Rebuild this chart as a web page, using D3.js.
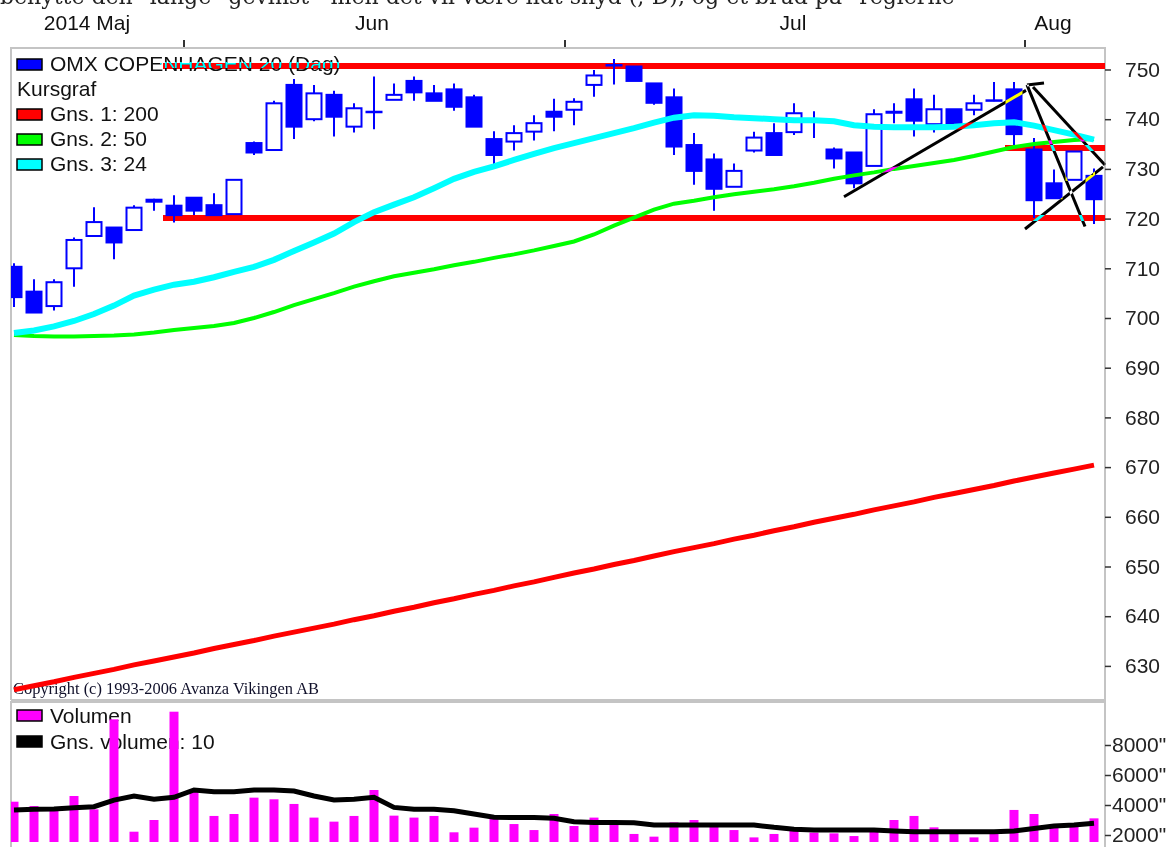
<!DOCTYPE html>
<html>
<head>
<meta charset="utf-8">
<script src="https://cdn.jsdelivr.net/npm/d3@7"></script>
<style>
  body { margin: 0; background: #fff; overflow: hidden; }
  svg { display: block; font-family: "Liberation Sans", Arial, sans-serif; }
</style>
</head>
<body>
<svg id="chart" width="1175" height="847"></svg>
<script>
// daily candles, OMX Copenhagen 20
const opens  = [710.3,705.3,702.4,710.0,716.5,718.2,717.7,723.8,722.6,724.2,722.7,720.9,735.2,733.8,746.9,740.0,744.9,738.5,741.4,743.9,
                747.7,745.2,746.0,744.4,736.0,735.5,737.5,741.5,741.9,746.9,750.9,750.6,747.2,744.4,734.8,731.9,726.4,733.7,737.2,737.4,
                740.0,733.9,733.3,730.6,741.3,744.0,739.0,742.0,741.9,743.7,746.0,733.9,727.1,727.8,728.6];
const highs  = [711.0,707.8,707.8,716.2,722.3,718.3,722.7,724.0,724.7,724.3,725.1,727.8,735.5,743.7,748.1,746.9,745.7,743.2,748.6,747.2,
                748.6,746.9,747.2,744.9,737.6,738.8,740.8,744.1,744.2,749.9,752.1,750.6,747.2,746.2,737.2,733.1,731.1,737.5,739.2,743.2,
                741.6,734.3,733.3,742.0,743.2,746.2,744.9,742.0,744.9,747.5,747.5,736.2,729.9,733.5,730.1];
const lows   = [702.2,701.0,701.5,706.3,716.5,711.8,717.7,721.6,719.2,720.7,720.5,720.9,732.8,733.8,736.0,739.6,736.5,737.3,738.0,743.9,
                743.7,743.7,741.7,738.5,730.8,733.7,735.7,737.6,738.8,744.5,747.0,747.7,742.9,732.8,726.8,721.6,726.4,733.3,732.8,736.8,
                736.2,730.1,726.1,730.6,739.2,736.5,737.3,738.8,740.8,743.6,734.8,720.1,724.1,727.8,718.9];
const closes = [704.2,701.1,707.2,715.7,719.3,715.2,722.2,723.4,720.7,721.6,720.7,727.8,733.3,743.2,738.5,745.2,740.5,742.2,741.5,744.9,
                745.4,743.7,742.5,738.5,732.8,737.2,739.2,740.5,743.5,748.8,750.8,747.7,743.3,734.5,729.6,726.0,729.6,736.3,732.8,741.2,
                739.9,732.1,727.1,741.0,741.5,739.7,742.0,739.2,743.2,743.8,737.0,723.7,724.1,733.5,723.9];

// moving averages
const ma200 = [625.2,626.0,626.8,627.7,628.5,629.3,630.2,631.0,631.8,632.6,633.5,634.3,635.1,636.0,636.8,637.6,638.4,639.3,640.1,641.0,
               641.8,642.7,643.5,644.4,645.2,646.1,646.9,647.8,648.7,649.5,650.4,651.2,652.1,653.0,653.8,654.6,655.5,656.3,657.2,658.0,
               658.9,659.7,660.5,661.4,662.2,663.0,663.9,664.7,665.5,666.3,667.2,668.0,668.8,669.6,670.4];
const ma50  = [696.6,696.4,696.3,696.3,696.4,696.5,696.7,697.1,697.6,698.0,698.4,699.0,700.0,701.2,702.6,703.8,705.0,706.3,707.4,708.4,
               709.1,709.8,710.6,711.3,712.1,712.8,713.6,714.5,715.4,716.8,718.6,720.2,721.8,723.0,723.6,724.3,724.9,725.4,725.9,726.5,
               727.2,728.0,728.7,729.3,730.0,730.6,731.2,731.8,732.6,733.5,734.4,735.0,735.4,735.8,736.0];
const ma24  = [697.0,697.5,698.3,699.4,700.8,702.5,704.5,705.7,706.7,707.3,708.2,709.3,710.3,711.7,713.5,715.2,717.0,719.3,721.3,722.8,
               724.3,726.1,728.0,729.4,730.5,731.8,733.0,734.2,735.2,736.2,737.2,738.2,739.3,740.3,740.8,740.7,740.4,740.2,740.0,739.8,
               739.8,739.6,738.8,738.5,738.4,738.4,738.4,738.5,738.8,739.2,739.4,738.7,737.8,736.9,735.9];

// volume (thousands of shares) and its 10 day average
const volume = [4220,3930,3780,4600,3710,9710,2220,3000,10220,4890,3270,3400,4490,4380,4070,3160,2890,3270,5000,3290,
                3160,3270,2180,2490,3160,2730,2330,3400,2600,3160,2840,2070,1890,2840,3000,2730,2330,1840,2070,2330,
                2160,2110,1930,2330,3000,3270,2510,2160,1840,2220,3670,3400,2600,2730,3110];
const volMa10 = [3670,3710,3730,3820,3890,4330,4600,4380,4510,5000,4890,4890,5000,5000,4930,4600,4330,4380,4510,3840,
                 3710,3710,3620,3400,3180,3160,3160,3110,2890,2840,2840,2820,2670,2670,2670,2670,2670,2670,2510,2380,
                 2330,2330,2330,2330,2270,2220,2220,2220,2220,2220,2270,2440,2600,2670,2780];

// axis ticks and month labels (positions as candle index)
const priceTicks = [630,640,650,660,670,680,690,700,710,720,730,740,750];
const volTicks = [2000,4000,6000,8000];
const monthLabels = ["2014 Maj","Jun","Jul","Aug"];
const monthLabelIdx = [3.65,17.9,38.95,51.95];
const monthTickIdx = [8.5,27.55,50.55];

// hand drawn support/resistance and trend lines [idx, value]
const hLines = [
  { from: 7.45, to: 54.6, value: 750.7 },
  { from: 7.45, to: 54.6, value: 720.1 },
  { from: 49.55, to: 54.6, value: 734.2 }
];
const trendLines = [
  [[41.5,724.4],[50.6,745.8]],
  [[50.65,746.9],[51.5,747.3]],
  [[50.65,746.9],[53.55,718.4]],
  [[50.95,746.5],[54.55,730.8]],
  [[50.55,717.9],[54.45,730.4]]
];

const priceLegend = [
  { label: "OMX COPENHAGEN 20 (Dag)", color: "#0000ff" },
  { label: "Kursgraf", color: null },
  { label: "Gns. 1: 200", color: "#ff0000" },
  { label: "Gns. 2: 50", color: "#00ff00" },
  { label: "Gns. 3: 24", color: "#00ffff" }
];
const volLegend = [
  { label: "Volumen", color: "#ff00ff" },
  { label: "Gns. volumen: 10", color: "#000000" }
];

const svg = d3.select('#chart');
const left = 11, right = 1105;
const priceTop = 48, priceBottom = 700;
const volTop = 702, volBottom = 842;

svg.append('rect').attr('width', 1175).attr('height', 847).attr('fill', '#fff');

const defs = svg.append('defs');
defs.append('clipPath').attr('id', 'clipPrice').append('rect')
  .attr('x', left).attr('y', priceTop).attr('width', right - left).attr('height', priceBottom - priceTop);
defs.append('clipPath').attr('id', 'clipVol').append('rect')
  .attr('x', left).attr('y', volTop).attr('width', right - left).attr('height', volBottom - volTop);
defs.append('clipPath').attr('id', 'clipRedBand').append('rect')
  .attr('x', 160).attr('y', 62).attr('width', 950).attr('height', 6);

// scales
const x = d3.scaleLinear().domain([0, opens.length - 1]).range([14, 14 + 20 * (opens.length - 1)]);
const y = d3.scaleLinear().domain([630, 750]).range([665.9, 69.5]);
const yv = d3.scaleLinear().domain([0, 10000]).range([865, 715]);
const bodyW = 15;

// cut off page text above the chart
svg.append('text')
  .attr('x', 0).attr('y', 4)
  .attr('font-family', '"DejaVu Serif", "Liberation Serif", serif')
  .attr('font-size', 22)
  .attr('fill', '#222')
  .text('benytte den "lange" gevinst - men det vil være lidt snyd (; D), og et brud på "reglerne"');

// month labels and ticks
svg.append('g').selectAll('text')
  .data(monthLabels)
  .join('text')
  .attr('x', (d, i) => x(monthLabelIdx[i]))
  .attr('y', 30)
  .attr('text-anchor', 'middle')
  .attr('font-size', 21)
  .attr('fill', '#111')
  .text(d => d);
svg.append('g').selectAll('line')
  .data(monthTickIdx)
  .join('line')
  .attr('x1', d => x(d)).attr('x2', d => x(d))
  .attr('y1', 40).attr('y2', priceTop)
  .attr('stroke', '#333').attr('stroke-width', 2);

// panel frames
const frame = svg.append('g').attr('fill', 'none').attr('stroke', '#c4c4c4').attr('stroke-width', 2);
frame.append('path').attr('d', `M${left},${priceBottom}V${priceTop}H${right}V${volBottom + 10}`);
frame.append('path').attr('d', `M${left},${volBottom + 10}V${volTop}H${right}`);
frame.append('line').attr('x1', left).attr('x2', right).attr('y1', priceBottom).attr('y2', priceBottom);

// price panel
const pricePlot = svg.append('g').attr('clip-path', 'url(#clipPrice)');

pricePlot.append('text')
  .attr('x', 13).attr('y', 694)
  .attr('font-family', '"Liberation Serif", "Times New Roman", serif')
  .attr('font-size', 16)
  .attr('textLength', 306).attr('lengthAdjust', 'spacingAndGlyphs')
  .attr('fill', '#10102a')
  .text('Copyright (c) 1993-2006 Avanza Vikingen AB');

pricePlot.append('g').selectAll('line')
  .data(hLines)
  .join('line')
  .attr('x1', d => x(d.from)).attr('x2', d => x(d.to))
  .attr('y1', d => y(d.value)).attr('y2', d => y(d.value))
  .attr('stroke', '#ff0000').attr('stroke-width', 6);

const candles = opens.map((o, i) => ({ i, o, h: highs[i], l: lows[i], c: closes[i] }));

pricePlot.append('g').selectAll('line')
  .data(candles)
  .join('line')
  .attr('x1', d => x(d.i)).attr('x2', d => x(d.i))
  .attr('y1', d => y(d.h)).attr('y2', d => y(d.l))
  .attr('stroke', '#0000ff').attr('stroke-width', 2);

pricePlot.append('g').selectAll('rect')
  .data(candles)
  .join('rect')
  .attr('x', d => x(d.i) - bodyW / 2)
  .attr('width', bodyW)
  .attr('y', d => y(Math.max(d.o, d.c)))
  .attr('height', d => Math.max(0.5, Math.abs(y(d.o) - y(d.c))))
  .attr('fill', d => d.c < d.o ? '#0000ff' : '#ffffff')
  .attr('stroke', '#0000ff').attr('stroke-width', 2);

const maLine = d3.line().x((d, i) => x(i)).y(d => y(d));
[[ma200, '#ff0000', 5], [ma50, '#00ff00', 4], [ma24, '#00ffff', 6]].forEach(([vals, col, w]) => {
  pricePlot.append('path')
    .datum(vals)
    .attr('d', maLine)
    .attr('fill', 'none')
    .attr('stroke', col)
    .attr('stroke-width', w);
});

// trend lines are drawn in xor style, straight on the svg so they blend with what is below
svg.append('g').selectAll('line')
  .data(trendLines)
  .join('line')
  .attr('x1', d => x(d[0][0])).attr('y1', d => y(d[0][1]))
  .attr('x2', d => x(d[1][0])).attr('y2', d => y(d[1][1]))
  .attr('stroke', '#fff').attr('stroke-width', 3)
  .style('mix-blend-mode', 'difference');

// price legend
const pl = svg.append('g');
const plItem = pl.selectAll('g')
  .data(priceLegend)
  .join('g')
  .attr('transform', (d, i) => `translate(17, ${64 + i * 25})`);
plItem.filter(d => d.color)
  .append('rect')
  .attr('x', 0).attr('y', -5).attr('width', 25).attr('height', 11)
  .attr('fill', d => d.color).attr('stroke', '#000').attr('stroke-width', 1.5);
plItem.append('text')
  .attr('x', d => d.color ? 33 : 0)
  .attr('y', 7)
  .attr('font-size', 21)
  .attr('fill', '#111')
  .text(d => d.label);
// legend text turns cyan where it crosses the red line
pl.append('text')
  .attr('x', 50).attr('y', 71)
  .attr('font-size', 21)
  .attr('fill', '#00ffff')
  .attr('clip-path', 'url(#clipRedBand)')
  .text(priceLegend[0].label);

// price axis
const pAxis = svg.append('g')
  .attr('transform', `translate(${right},0)`)
  .call(d3.axisRight(y).tickValues(priceTicks).tickSize(6).tickPadding(14));
pAxis.select('.domain').remove();
pAxis.selectAll('line').attr('stroke', '#333').attr('stroke-width', 1.5);
pAxis.selectAll('text').attr('font-size', 21).attr('fill', '#222').attr('font-family', '"Liberation Sans", Arial, sans-serif');

// volume panel
const vl = svg.append('g');
const vlItem = vl.selectAll('g')
  .data(volLegend)
  .join('g')
  .attr('transform', (d, i) => `translate(17, ${715 + i * 26})`);
vlItem.append('rect')
  .attr('x', 0).attr('y', -5).attr('width', 25).attr('height', 11)
  .attr('fill', d => d.color).attr('stroke', '#000').attr('stroke-width', 1.5);
vlItem.append('text')
  .attr('x', 33).attr('y', 8)
  .attr('font-size', 21)
  .attr('fill', '#111')
  .text(d => d.label);

const volPlot = svg.append('g').attr('clip-path', 'url(#clipVol)');
volPlot.append('g').selectAll('rect')
  .data(volume)
  .join('rect')
  .attr('x', (d, i) => x(i) - 4.5)
  .attr('width', 9)
  .attr('y', d => yv(d))
  .attr('height', d => yv(0) - yv(d))
  .attr('fill', '#ff00ff');
volPlot.append('path')
  .datum(volMa10)
  .attr('d', d3.line().x((d, i) => x(i)).y(d => yv(d)))
  .attr('fill', 'none')
  .attr('stroke', '#000')
  .attr('stroke-width', 5);

const vAxis = svg.append('g')
  .attr('transform', `translate(${right},0)`)
  .call(d3.axisRight(yv).tickValues(volTicks).tickSize(6).tickPadding(1).tickFormat(d => d + '"'));
vAxis.select('.domain').remove();
vAxis.selectAll('line').attr('stroke', '#333').attr('stroke-width', 1.5);
vAxis.selectAll('text').attr('font-size', 21).attr('fill', '#222').attr('font-family', '"Liberation Sans", Arial, sans-serif');
</script>
</body>
</html>
